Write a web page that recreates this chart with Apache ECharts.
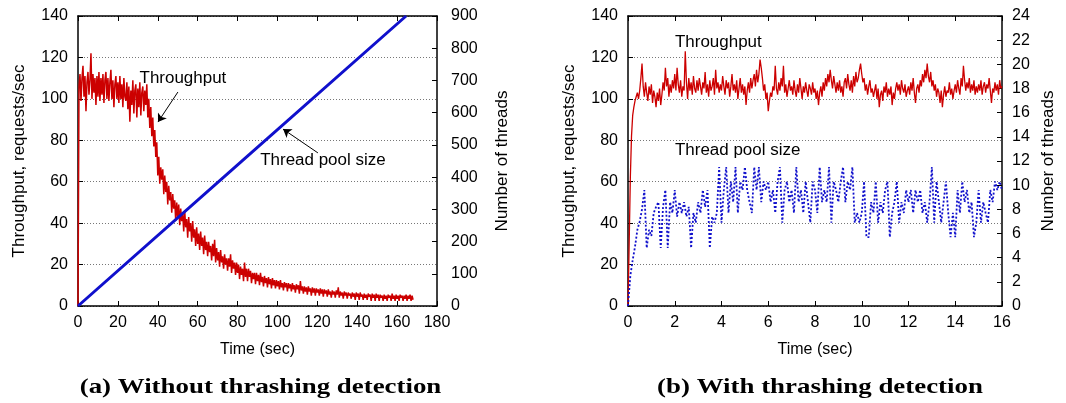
<!DOCTYPE html>
<html><head><meta charset="utf-8">
<script src="https://cdn.jsdelivr.net/npm/echarts@6/dist/echarts.min.js"></script>
<style>html,body{margin:0;padding:0;background:#fff}#c{width:1066px;height:403px}</style>
</head><body><div id="c"></div>
<script>
// ---------- DATA ----------
// (a) throughput, sampled every 0.5 s from t = 0 to 168 s
const leftStep = 0.5;
const leftThroughput = [
0,106,112,99,110,116,101,111,94,108,
113,102,109,122,100,112,103,110,97,111,
101,113,99,110,102,112,98,109,113,100,
110,99,108,114,100,109,96,107,111,100,
108,98,111,100,107,96,110,101,99,108,
95,106,89,104,97,109,93,104,107,91,
105,96,108,92,103,106,94,104,97,107,
91,100,86,96,82,91,77,85,72,79,
63,72,59,67,61,66,54,63,55,60,
49,58,51,55,45,54,47,51,41,50,
43,49,39,47,41,45,36,46,38,42,
33,43,36,40,31,41,33,37,29,38,
30,35,27,36,29,33,25,34,27,31,
24,31,26,29,22,30,24,32,21,28,
22,26,19,27,21,24,18,25,20,23,
17,23,19,25,16,22,18,21,15,21,
16,20,13,19,15,18,12,21,14,18,
12,18,14,17,11,16,13,16,10.5,16,
12,15,10,16,11.5,14,9.5,14.5,11,13.5,
9,14,10.5,13,8.5,13.5,10,12.5,8.5,12.5,
9.5,12,8,12.5,9,11,7.5,11.5,9,11,
7,11,8.5,10.5,7,11,8,10,6.5,10.5,
8,10,6,12,7.5,9.5,6,9.5,7,9,
5.5,9.5,7,8.5,5,9,6.5,8.5,5,8.5,
6.5,8,5,8.5,6,8,4.5,8,6,7.5,
4.5,8,5.5,7,4,7.5,5.5,7,4,7.5,
5.5,9,4,7,5,6.5,3.5,7,5,6.5,
3.5,6.5,5,6,3.5,6.5,4.5,6,3,6.5,
4.5,6,3,6.5,4.5,5.5,3,6,4,5.5,
3,6,4.5,5.5,2.5,6,4,5.5,2.5,6,
4,5.5,2.5,5.5,4,5,2.5,5.5,3.5,5,
2.5,5.5,4,5,2.5,6,3.5,5,2.5,5.5,
3.5,5,2.5,5.5,4,5,2.5,5,3.5,5.5,
2.5,5,3.5,5.5,2.5,5,3
];
// (a) thread pool size: [time, threads]
const leftThreads = [[0, 0], [82, 449], [164.5, 900]];

// (b) throughput, sampled every 0.05 s from t = 0 to 16 s
const rightTpStep = 0.05;
const rightThroughput = [
0,30,62,82,92,96,99,101,103,100,104,110,117,106,101,108,103,99,106,102,
107,98,104,101,96,103,99,105,97,102,108,104,115,106,110,101,107,103,109,105,
112,104,115,107,103,109,101,106,104,123,108,100,110,104,108,102,111,105,103,109,
104,110,106,102,108,105,113,103,107,101,109,104,106,110,102,114,105,108,103,107,
104,111,106,102,109,105,108,101,106,112,104,107,103,109,100,105,110,103,107,102,
106,97,104,108,103,110,105,109,112,106,114,108,112,119,115,110,104,107,100,103,
94,99,103,101,106,104,116,105,102,108,104,110,106,116,103,107,101,105,109,104,
106,102,109,104,101,107,103,110,105,100,106,103,108,104,101,107,105,102,108,103,
105,100,104,97,103,106,101,108,104,110,106,112,108,114,109,105,111,107,103,108,
104,109,103,106,101,108,110,105,112,107,104,109,103,111,106,113,108,110,114,117,
112,108,110,104,107,102,106,109,103,105,101,104,107,100,105,96,102,104,99,106,
103,108,101,105,102,106,97,103,100,105,108,104,107,102,109,105,103,107,101,104,
106,102,108,104,110,103,98,105,107,103,109,106,112,108,114,110,117,111,108,113,
106,109,104,107,101,105,103,98,104,96,102,106,101,104,103,108,102,105,100,104,
107,103,109,105,102,110,106,116,109,104,108,105,110,103,107,104,109,102,106,103,
107,104,109,102,106,108,103,107,105,110,104,98,105,103,108,104,107,102,109,105,
106
];
// (b) thread pool size, sampled every 0.1 s from t = 0 to 16 s
const rightThStep = 0.1;
const rightThreads = [
0,2.5,3.8,4.9,6.3,7,8,9.6,4.8,6.3,
5.8,7.7,8.2,8.6,4.8,8.2,9.6,4.8,8.6,7.7,
9.6,7.4,8.6,7.7,8.6,7.4,8.2,4.8,7.7,6.9,
8.6,7.7,9.6,8.2,9.6,4.8,7.4,6.9,7.7,11.5,
6.9,9.6,11.5,7.7,10.3,8.6,11.5,7.7,10.3,9.6,
11.5,9.6,8.6,7.7,11.5,9.6,11.5,8.6,10.3,9.6,
10.3,8.6,9.6,7.7,10.3,11.5,6.9,9.6,10.3,8.6,
9.6,7.7,11.5,8.6,9.6,7.7,10.3,8.6,6.9,10.3,
9.6,7.7,11.5,8.6,9.6,8.6,11.5,6.9,10.3,9.6,
8.6,10.3,11.5,8.6,10.3,9.6,11.5,6.9,7.7,6.9,
7.7,10.3,5.7,5.7,8.6,7.7,10.3,6.9,8.6,7.7,
9.6,10.3,5.7,7.7,8.6,10.3,6.9,8.6,7.7,9.6,
8.6,9.6,7.7,9.6,8.6,9.6,7.7,8.6,6.9,8.6,
11.5,6.9,10.3,8.6,6.9,8.6,10.3,7.7,5.7,7.7,
5.7,9.6,7.7,10.3,8.6,9.6,7.7,8.6,5.7,6.9,
9.6,6.9,8.6,7.7,6.9,9.6,8.6,10.3,9.6,10.3,
9.6
];

// Axis tick settings
const leftXMax = 180, leftXStep = 20;
const rightXMax = 16, rightXStep = 2;
const tputMax = 140, tputStep = 20;
const leftThMax = 900, leftThStep = 100;
const rightThMax = 24, rightThAxisStep = 2;

// Titles and annotations (annotations in data coordinates)
const titles = ['(a) Without thrashing detection', '(b) With thrashing detection'];
const leftArrows = [[[50.1, 103.3], [40.1, 88.8]], [[120.3, 73.9], [102.8, 85.4]]];
const leftNotes = [{text: 'Throughput', at: [52.6, 109.6]}, {text: 'Thread pool size', at: [122.8, 70]}];
const rightNotes = [{text: 'Throughput', at: [2.01, 127.4]}, {text: 'Thread pool size', at: [2.01, 74.8]}];

// ---------- CHART ----------
const FONT = '"Liberation Sans", Arial, Helvetica, sans-serif';
const SERIF = '"Liberation Serif", "Times New Roman", serif';
const RED = '#cc0000', BLUE = '#1010cc';
const chart = echarts.init(document.getElementById('c'), null, {renderer: 'canvas'});

function xAx(grid, max, step, pos, labels) {
  return {
    type: 'value', gridIndex: grid, min: 0, max: max, interval: step, position: pos,
    name: labels ? 'Time (sec)' : '', nameLocation: 'middle', nameGap: 36,
    nameTextStyle: {fontFamily: FONT, fontSize: 16, color: '#000'},
    axisLine: {show: true, onZero: false, lineStyle: {color: '#000', width: 1.5}},
    axisTick: {show: true, inside: true, length: 5, lineStyle: {color: '#000', width: 1}},
    axisLabel: {show: labels, margin: 9, fontFamily: FONT, fontSize: 16, color: '#000'},
    splitLine: {show: false}
  };
}
function yAx(grid, max, step, pos, name, gap, margin, grids) {
  return {
    type: 'value', gridIndex: grid, min: 0, max: max, interval: step, position: pos,
    name: name, nameLocation: 'middle', nameGap: gap,
    nameTextStyle: {fontFamily: FONT, fontSize: 17, color: '#000'},
    axisLine: {show: true, onZero: false, lineStyle: {color: '#000', width: 1.5}},
    axisTick: {show: true, inside: true, length: 5, lineStyle: {color: '#000', width: 1}},
    axisLabel: {margin: margin, fontFamily: FONT, fontSize: 16, color: '#000'},
    splitLine: {show: grids, lineStyle: {color: '#777', type: [1, 2], width: 1}}
  };
}

const withTime = (arr, step) => arr.map((v, i) => [+(i * step).toFixed(3), v]);

const option = {
  animation: false,
  backgroundColor: '#fff',
  grid: [
    {left: 78, top: 16, width: 359, height: 290},
    {left: 628, top: 16, width: 374, height: 290}
  ],
  xAxis: [
    xAx(0, leftXMax, leftXStep, 'bottom', true),
    xAx(0, leftXMax, leftXStep, 'top', false),
    xAx(1, rightXMax, rightXStep, 'bottom', true),
    xAx(1, rightXMax, rightXStep, 'top', false)
  ],
  yAxis: [
    yAx(0, tputMax, tputStep, 'left', 'Throughput, requests/sec', 50, 10, true),
    yAx(0, leftThMax, leftThStep, 'right', 'Number of threads', 57, 14, false),
    yAx(1, tputMax, tputStep, 'left', 'Throughput, requests/sec', 50, 10, true),
    yAx(1, rightThMax, rightThAxisStep, 'right', 'Number of threads', 38, 10, false)
  ],
  series: [
    {type: 'line', xAxisIndex: 0, yAxisIndex: 0, data: withTime(leftThroughput, leftStep),
     showSymbol: false, symbol: 'none', lineStyle: {color: RED, width: 1.5}, z: 2},
    {type: 'line', xAxisIndex: 0, yAxisIndex: 1, data: leftThreads,
     showSymbol: false, symbol: 'none', lineStyle: {color: BLUE, width: 3}, z: 3},
    {type: 'lines', coordinateSystem: 'cartesian2d', xAxisIndex: 0, yAxisIndex: 0,
     symbol: ['none', 'arrow'], symbolSize: 8, silent: true, z: 10,
     lineStyle: {color: '#000', width: 1, opacity: 1},
     data: leftArrows.map(c => ({coords: c}))},
    {type: 'line', xAxisIndex: 2, yAxisIndex: 2, data: withTime(rightThroughput, rightTpStep),
     showSymbol: false, symbol: 'none', lineStyle: {color: RED, width: 1.3}, z: 2},
    {type: 'line', xAxisIndex: 2, yAxisIndex: 3, data: withTime(rightThreads, rightThStep),
     showSymbol: false, symbol: 'none', lineStyle: {color: BLUE, width: 1.8, type: [2, 2]}, z: 3}
  ]
};
chart.setOption(option);

function noteGraphics(notes, grid, align) {
  return notes.map(n => {
    const p = chart.convertToPixel({gridIndex: grid}, n.at);
    return {type: 'text', x: p[0], y: p[1], z: 20, scaleX: 1.06,
      style: {text: n.text, fontFamily: FONT, fontSize: 16, fill: '#000',
              align: align, verticalAlign: 'middle'}};
  });
}
const titleGraphics = [
  {type: 'text', x: 260.5, y: 388, scaleX: 1.28, z: 20,
   style: {text: titles[0], fontFamily: SERIF, fontWeight: 'bold', fontSize: 21, fill: '#000', align: 'center', verticalAlign: 'middle'}},
  {type: 'text', x: 820, y: 388, scaleX: 1.28, z: 20,
   style: {text: titles[1], fontFamily: SERIF, fontWeight: 'bold', fontSize: 21, fill: '#000', align: 'center', verticalAlign: 'middle'}}
];
chart.setOption({graphic: [].concat(noteGraphics(leftNotes, 0, 'center'), noteGraphics(rightNotes, 1, 'left'), titleGraphics)});
</script></body></html>
